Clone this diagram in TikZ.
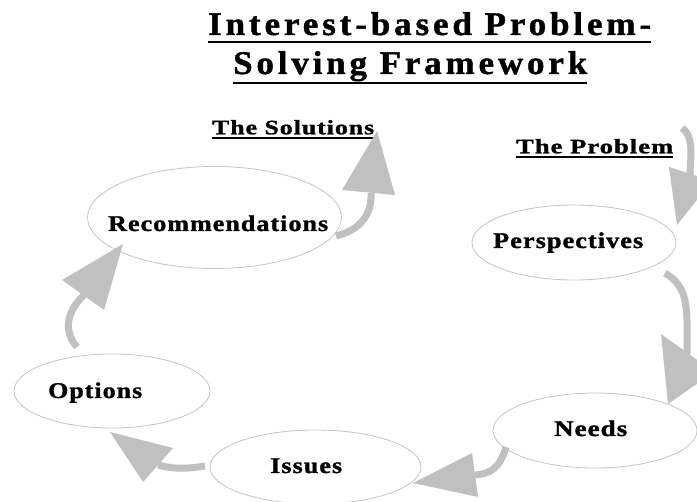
\documentclass[tikz,border=0pt]{standalone}
\usepackage{graphicx}
\usepackage{fontspec}
\setmainfont{Liberation Serif}[LetterSpace=4, BoldFeatures={FakeBold=1.2}]
\usetikzlibrary{shapes.geometric}
\definecolor{ellgray}{HTML}{C4C4C4}
\definecolor{arrgray}{HTML}{C0C0C0}
\newcommand{\fitto}[2]{\resizebox{#1}{\height}{#2}}
\begin{document}
\begin{tikzpicture}[x=1pt,y=-1pt,
 ell/.style={draw=ellgray, line width=0.8pt, ellipse, inner sep=0pt},
 lbl/.style={anchor=base west, inner sep=0pt, font=\bfseries\fontsize{22.5}{24}\selectfont},
 hdr/.style={anchor=base west, inner sep=0pt, font=\bfseries\fontsize{20.5}{22}\selectfont},
 ttl/.style={anchor=base west, inner sep=0pt, font=\bfseries\fontsize{33}{36}\selectfont\addfontfeature{LetterSpace=11}},
 shaft/.style={draw=arrgray, line width=7pt},
 head/.style={fill=arrgray, draw=none},
 uline/.style={draw=black, line width=2pt}]
\useasboundingbox (0,0) rectangle (697,502);
\clip (0,0) rectangle (697,502);
\fill[white] (0,0) rectangle (697,502);

% title
\node[ttl] (t1) at (208,35) {\fitto{443pt}{Interest-based Problem-}};
\node[ttl] (t2) at (233,74) {\fitto{354pt}{Solving Framework}};
\draw[uline] ([yshift=-7.5pt]t1.base west) -- ([yshift=-7.5pt]t1.base east);
\draw[uline] ([yshift=-9pt]t2.base west) -- ([yshift=-9pt]t2.base east);

% headers
\node[hdr] (sol) at (212,134.3) {\fitto{162pt}{The Solutions}};
\node[hdr] (prob) at (516,153.3) {\fitto{157pt}{The Problem}};
\draw[uline, line width=1.5pt] ([yshift=-3.5pt]sol.base west) -- ([yshift=-3.5pt]sol.base east);
\draw[uline, line width=1.5pt] ([yshift=-3.8pt]prob.base west) -- ([yshift=-3.8pt]prob.base east);

% ellipses
\node[ell, minimum width=254pt, minimum height=102pt] (rec) at (214.5,217.5) {};
\node[ell, minimum width=204pt, minimum height=75pt] (per) at (574,242.5) {};
\node[ell, minimum width=196pt, minimum height=74pt] (opt) at (112,391) {};
\node[ell, minimum width=204pt, minimum height=75pt] (nee) at (595,430.5) {};
\node[ell, minimum width=211pt, minimum height=74pt] (iss) at (315.5,467) {};

% labels
\node[lbl] (lrec) at (108,231) {\fitto{220pt}{Recommendations}};
\node[lbl] (lper) at (493,248) {\fitto{150pt}{Perspectives}};
\node[lbl] (lopt) at (48,398) {\fitto{94pt}{Options}};
\node[lbl] (lnee) at (554,436) {\fitto{73pt}{Needs}};
\node[lbl] (liss) at (270,473) {\fitto{72pt}{Issues}};

% arrow 1 (entering, top right)
\coordinate (a1s) at (682,128);
\coordinate (a1e) at (690,176);
\draw[shaft] (a1s) .. controls (695,137) and (690,160) .. (a1e);
\fill[head] (669,167) -- (712,181) -- (677,225) -- cycle;

% arrow 2 perspectives -> needs
\coordinate (a2s) at (665,273);
\coordinate (a2e) at (687,354);
\draw[shaft] (a2s) .. controls (690,288) and (687,310) .. (a2e);
\fill[head] (661,334) -- (714,372) -- (668,404) -- cycle;

% arrow 3 needs -> issues
\coordinate (a3s) at (506,447);
\coordinate (a3e) at (475,475);
\draw[shaft] (a3s) .. controls (500,468) and (490,474) .. (a3e);
\fill[head] (472,453) -- (478,497) -- (413,483) -- cycle;

% arrow 4 issues -> options
\coordinate (a4s) at (205,466);
\coordinate (a4e) at (158,465);
\draw[shaft] (a4s) .. controls (180,470) and (170,468) .. (a4e);
\fill[head] (173,448) -- (143,482) -- (110,432) -- cycle;

% arrow 5 options -> recommendations
\coordinate (a5s) at (77,347);
\coordinate (a5e) at (84,295);
\draw[shaft] (a5s) .. controls (62,330) and (68,310) .. (a5e);
\fill[head] (62,280) -- (104,310) -- (123,244) -- cycle;

% arrow 6 recommendations -> solutions
\coordinate (a6s) at (336,236);
\coordinate (a6e) at (371,193);
\draw[shaft] (a6s) .. controls (360,230) and (372,215) .. (a6e);
\fill[head] (342,190) -- (395,195) -- (377,131) -- cycle;
\end{tikzpicture}
\end{document}
